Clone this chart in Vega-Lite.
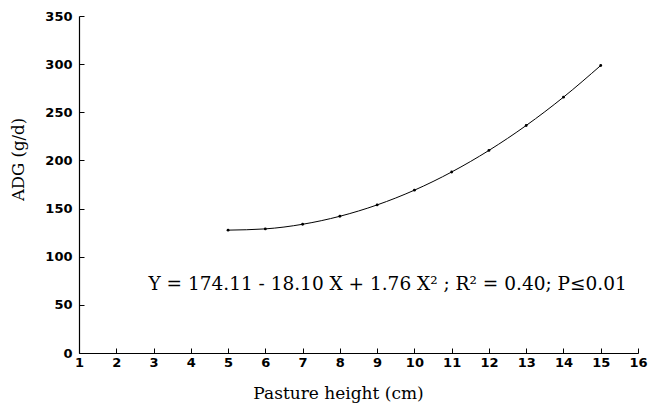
{
  "$schema": "https://vega.github.io/schema/vega-lite/v6.json",
  "autosize": "none",
  "padding": {"left": 79, "top": 16, "right": 10, "bottom": 59},
  "width": 559,
  "height": 337,
  "background": "white",
  "config": {"view": {"stroke": null}},
  "data": {"values": [
    {"height": 5, "adg": 127.6},
    {"height": 6, "adg": 128.9},
    {"height": 7, "adg": 133.7},
    {"height": 8, "adg": 142.0},
    {"height": 9, "adg": 153.8},
    {"height": 10, "adg": 169.1},
    {"height": 11, "adg": 188.0},
    {"height": 12, "adg": 210.4},
    {"height": 13, "adg": 236.3},
    {"height": 14, "adg": 265.7},
    {"height": 15, "adg": 298.6}
  ]},
  "encoding": {
    "x": {"field": "height", "type": "quantitative",
      "scale": {"domain": [1, 16], "nice": false, "zero": false},
      "axis": {"values": [1,2,3,4,5,6,7,8,9,10,11,12,13,14,15,16], "tickCount": 16, "title": "Pasture height  (cm)",
        "labelOverlap": false, "labelFlush": false, "labelBound": false,
        "grid": false, "domainColor": "black", "domainWidth": 1.2, "tickColor": "black", "tickSize": -5,
        "labelPadding": 8, "labelFont": "DejaVu Sans", "labelFontWeight": "bold", "labelFontSize": 13, "labelColor": "black",
        "titleFont": "DejaVu Serif", "titleFontSize": 17, "titleFontWeight": "normal", "titleColor": "black",
        "titleX": 259, "titleY": 40, "titleBaseline": "middle", "titleAlign": "center"}},
    "y": {"field": "adg", "type": "quantitative",
      "scale": {"domain": [0, 350], "nice": false},
      "axis": {"values": [0,50,100,150,200,250,300,350], "title": "ADG (g/d)",
        "labelOverlap": false, "labelFlush": false,
        "grid": false, "domainColor": "black", "domainWidth": 1.2, "tickColor": "black", "tickSize": -5,
        "labelPadding": 12, "labelFont": "DejaVu Sans", "labelFontWeight": "bold", "labelFontSize": 13, "labelColor": "black",
        "titleFont": "DejaVu Serif", "titleFontSize": 16.5, "titleFontWeight": "normal", "titleColor": "black",
        "titleX": -61, "titleY": 143, "titleBaseline": "middle", "titleAlign": "center", "titleAngle": 270}}
  },
  "layer": [
    {
      "mark": {"type": "line", "color": "black", "strokeWidth": 1, "interpolate": "monotone"}
    },
    {
      "mark": {"type": "point", "filled": true, "color": "black", "size": 8, "opacity": 1}
    },
    {
      "data": {"values": [{"height": 9.28, "adg": 72, "label": "Y = 174.11 - 18.10 X + 1.76 X² ; R² = 0.40; P≤0.01"}]},
      "mark": {"type": "text", "font": "DejaVu Serif", "fontSize": 18.5, "color": "black", "align": "center", "baseline": "middle"},
      "encoding": {
        "text": {"field": "label"}
      }
    }
  ]
}
